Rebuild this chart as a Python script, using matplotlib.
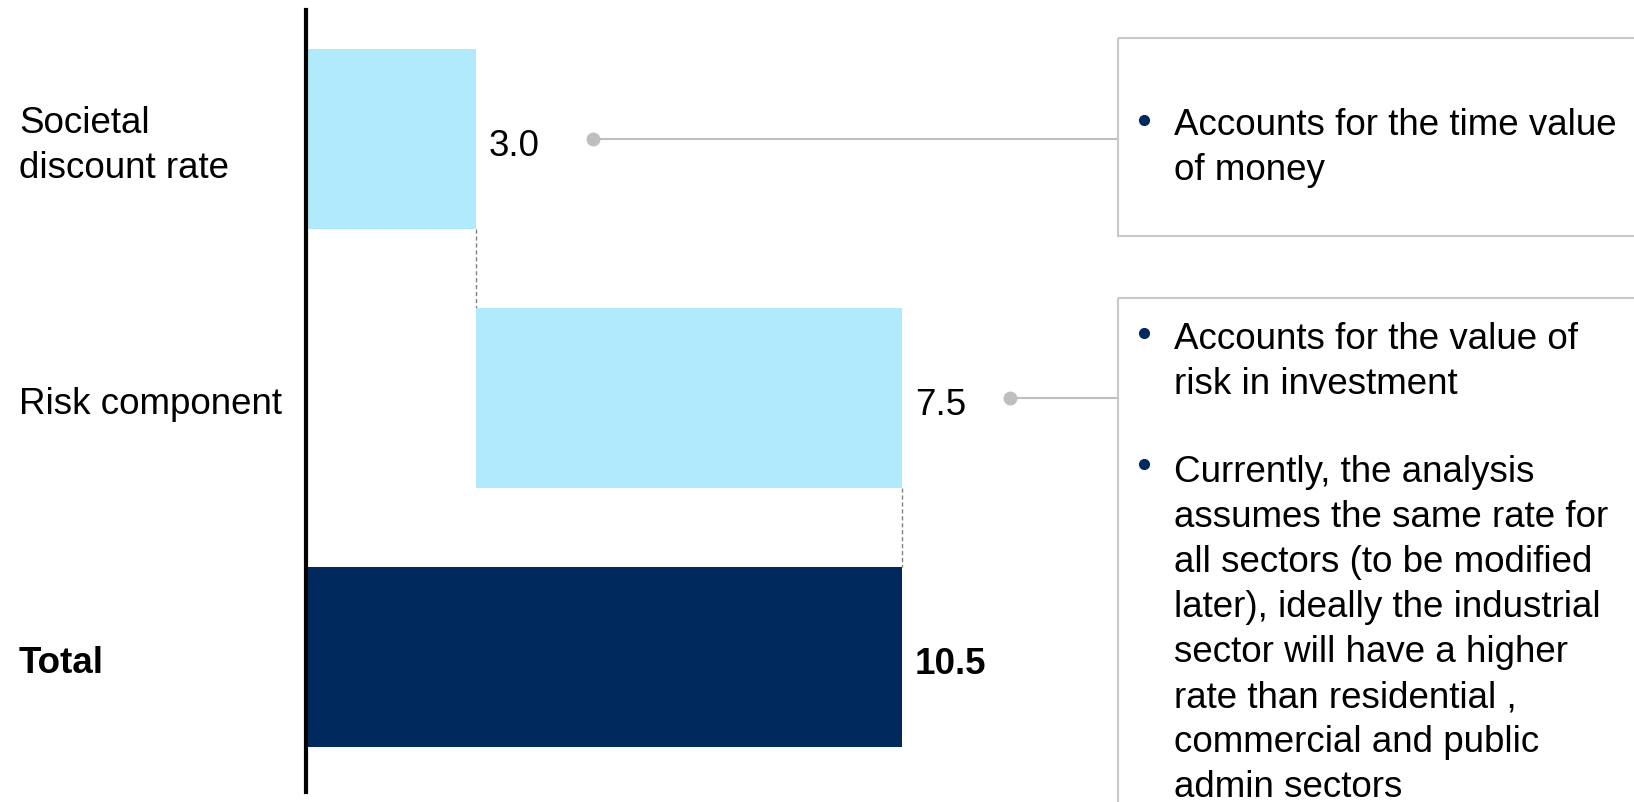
import matplotlib
matplotlib.use("Agg")
import matplotlib.pyplot as plt
from matplotlib.lines import Line2D
from matplotlib.patches import Rectangle
import matplotlib.transforms as mtransforms

# --- data ---
categories = ["Societal\ndiscount rate", "Risk component", "Total"]
values = [3.0, 7.5, 10.5]
value_labels = ["3.0", "7.5", "10.5"]
is_total = [False, False, True]

note_box1 = ["Accounts for the time value\nof money"]
note_box2 = [
    "Accounts for the value of\nrisk in investment",
    "Currently, the analysis\nassumes the same rate for\nall sectors (to be modified\n"
    "later), ideally the industrial\nsector will have a higher\nrate than residential ,\n"
    "commercial and public\nadmin sectors",
]

LIGHT = "#B0EAFC"
NAVY = "#002A5E"
GREY = "#BFBFBF"
BOXGREY = "#C8C8C8"
FS = 26.5

plt.rcParams["font.family"] = ["Liberation Sans", "DejaVu Sans"]

W, H = 1634, 802
fig = plt.figure(figsize=(W / 100, H / 100), dpi=100)
ax = fig.add_axes([306 / W, 10 / H, 1 - 306 / W, 782 / H])
ax.set_xlim(0, 1328 / 56.8)
ax.set_ylim(2.52, -0.50)


def px(x, y):
    # figure pixel (from top-left) -> figure fraction
    return x / W, 1 - y / H


# waterfall offsets
lefts, run = [], 0.0
for v, t in zip(values, is_total):
    if t:
        lefts.append(0.0)
    else:
        lefts.append(run)
        run += v

bar_h = 0.695
ys = list(range(len(values)))
colors = [NAVY if t else LIGHT for t in is_total]
ax.barh(ys, values, left=lefts, height=bar_h, color=colors, zorder=2)

# dashed connectors between steps
for i in range(len(values) - 1):
    xe = lefts[i] + values[i]
    ax.plot([xe, xe], [i + bar_h / 2, i + 1 - bar_h / 2], color="#808080",
            lw=1, ls=(0, (3, 2)), zorder=1)

# value labels
for i, (lab, t) in enumerate(zip(value_labels, is_total)):
    ax.annotate(lab, (lefts[i] + values[i], i), xytext=(9, -5),
                textcoords="offset points", va="center", ha="left",
                fontsize=FS, fontweight="bold" if t else "normal")

# category labels
lab_tr = mtransforms.blended_transform_factory(fig.transFigure, ax.transData)
for i, (c, t) in enumerate(zip(categories, is_total)):
    ax.text(19 / W, i + 0.024, c, transform=lab_tr, va="center", ha="left",
            fontsize=FS, fontweight="bold" if t else "normal", linespacing=1.38)

# callout lines with dots
dot_x = [5.05, 12.40]
box_x = 14.29
for i, dx in enumerate(dot_x):
    ax.plot([dx, box_x], [i, i], color=GREY, lw=1.5, zorder=1, clip_on=False)
    ax.plot([dx], [i], "o", color=GREY, ms=9, zorder=2, clip_on=False)

# note boxes
ax.add_patch(Rectangle((box_x, -0.392), 20, 0.765, fill=False, ec=BOXGREY,
                       lw=1.5, clip_on=False))
ax.add_patch(Rectangle((box_x, 0.614), 20, 3, fill=False, ec=BOXGREY,
                       lw=1.5, clip_on=False))

# bullet texts
for txt, top, by in zip(note_box1 + note_box2, [108, 322, 455], [120, 333, 464]):
    fig.add_artist(Line2D([px(1144, by)[0]], [px(1144, by)[1]], marker="o",
                          ms=7, color=NAVY, lw=0))
    fig.text(*px(1174, top), txt, fontsize=FS, va="top", linespacing=1.372)

for s in ["top", "right", "bottom"]:
    ax.spines[s].set_visible(False)
ax.spines["left"].set_linewidth(3)
ax.set_xticks([])
ax.set_yticks([])

fig.savefig("out.png", dpi=100)
